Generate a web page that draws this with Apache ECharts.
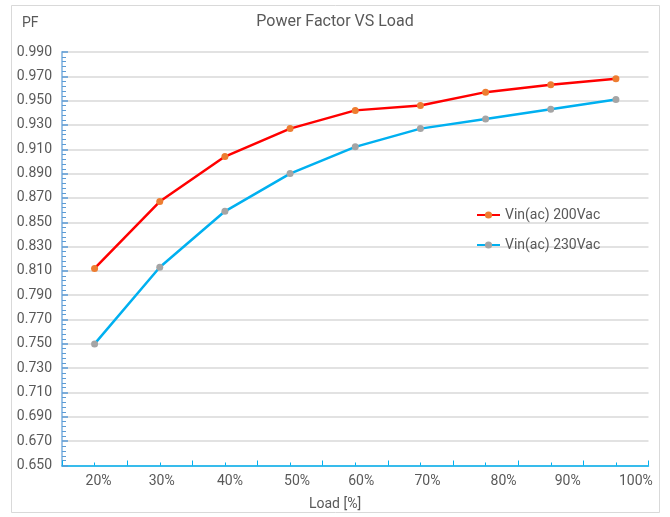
<!DOCTYPE html>
<html>
<head>
<meta charset="utf-8">
<script src="https://cdn.jsdelivr.net/npm/echarts@6/dist/echarts.min.js"></script>
<style>
  html, body { margin: 0; padding: 0; background: #fff; }
  #chart { width: 670px; height: 517px; }
</style>
</head>
<body>
<div id="chart"></div>
<script>
// Power factor vs load, two input voltages
const loadLabels = ['20%', '30%', '40%', '50%', '60%', '70%', '80%', '90%', '100%'];
const pf200Vac = [0.812, 0.867, 0.904, 0.927, 0.942, 0.946, 0.957, 0.963, 0.968];
const pf230Vac = [0.750, 0.813, 0.859, 0.890, 0.912, 0.927, 0.935, 0.943, 0.951];
const seriesNames = ['Vin(ac) 200Vac', 'Vin(ac) 230Vac'];
const yMin = 0.65;
const yMax = 0.99;
const yStep = 0.02;

const textColor = '#595959';
const fontFamily = 'Roboto, "Noto Sans", sans-serif';

// the x labels in the original sit a little right of the category centres
const labelNudge = [4, 2, 5, 7, 6, 7, 18, 17, 20];
const labelRich = {};
labelNudge.forEach((dx, i) => {
  labelRich['n' + i] = { padding: [0, 0, 0, dx * 2], fontSize: 14, color: textColor, fontFamily: fontFamily };
});

const chart = echarts.init(document.getElementById('chart'), null, { renderer: 'canvas' });

const option = {
  backgroundColor: '#fff',
  animation: false,
  textStyle: { fontFamily: fontFamily },
  title: [
    { text: 'Power Factor VS Load', left: 'center', top: 9,
      textStyle: { fontSize: 16, fontWeight: 'normal', color: textColor, fontFamily: fontFamily } },
    { text: 'PF', left: 17, top: 11,
      textStyle: { fontSize: 14, fontWeight: 'normal', color: textColor, fontFamily: fontFamily } },
    { text: 'Load [%]', left: 'center', top: 492,
      textStyle: { fontSize: 14, fontWeight: 'normal', color: textColor, fontFamily: fontFamily } }
  ],
  graphic: [{
    type: 'rect',
    shape: { x: 11.5, y: 5.5, width: 648, height: 507 },
    style: { fill: 'none', stroke: '#d9d9d9', lineWidth: 1 },
    silent: true
  }],
  legend: {
    orient: 'vertical',
    left: 471,
    top: 202,
    itemWidth: 23,
    itemHeight: 9,
    itemGap: 14,
    data: seriesNames,
    textStyle: { fontSize: 14, color: textColor, lineHeight: 16, fontFamily: fontFamily }
  },
  grid: { left: 62, right: 21.5, top: 52, bottom: 51.5 },
  xAxis: [{
    type: 'category',
    data: loadLabels,
    boundaryGap: true,
    axisLine: { lineStyle: { color: '#00b0f0', width: 1.5 } },
    axisTick: { show: true, inside: true, interval: 0, length: 5, lineStyle: { color: '#00b0f0', width: 1 } },
    axisLabel: {
      interval: 0,
      margin: 9,
      fontSize: 14,
      color: textColor,
      formatter: (v, i) => '{n' + i + '|' + v + '}',
      rich: labelRich
    },
    splitLine: { show: false }
  }, {
    type: 'category',
    data: loadLabels,
    position: 'bottom',
    axisLine: { show: false },
    axisTick: { show: true, inside: true, interval: 0, alignWithLabel: true, length: 3, lineStyle: { color: '#00b0f0', width: 1 } },
    axisLabel: { show: false, interval: 0 },
    splitLine: { show: false }
  }],
  yAxis: {
    type: 'value',
    min: yMin,
    max: yMax,
    interval: yStep,
    axisLine: { show: true, lineStyle: { color: '#9dc3e6', width: 2 } },
    axisTick: { show: true, inside: true, length: 6, lineStyle: { color: '#5b9bd5', width: 1.5 } },
    minorTick: { show: true, splitNumber: 5, length: 4, lineStyle: { color: '#5b9bd5', width: 1 } },
    axisLabel: {
      margin: 10,
      fontSize: 14,
      color: textColor,
      formatter: v => v.toFixed(3)
    },
    splitLine: { show: true, lineStyle: { color: '#d9d9d9', width: 1.5 } }
  },
  series: [
    {
      name: seriesNames[0],
      type: 'line',
      data: pf200Vac,
      symbol: 'circle',
      symbolSize: 7,
      lineStyle: { color: '#ff0000', width: 2.5 },
      itemStyle: { color: '#ed7d31' },
      z: 3
    },
    {
      name: seriesNames[1],
      type: 'line',
      data: pf230Vac,
      symbol: 'circle',
      symbolSize: 7,
      lineStyle: { color: '#00b0f0', width: 2.5 },
      itemStyle: { color: '#a5a5a5' },
      z: 2
    }
  ]
};

chart.setOption(option);
</script>
</body>
</html>
